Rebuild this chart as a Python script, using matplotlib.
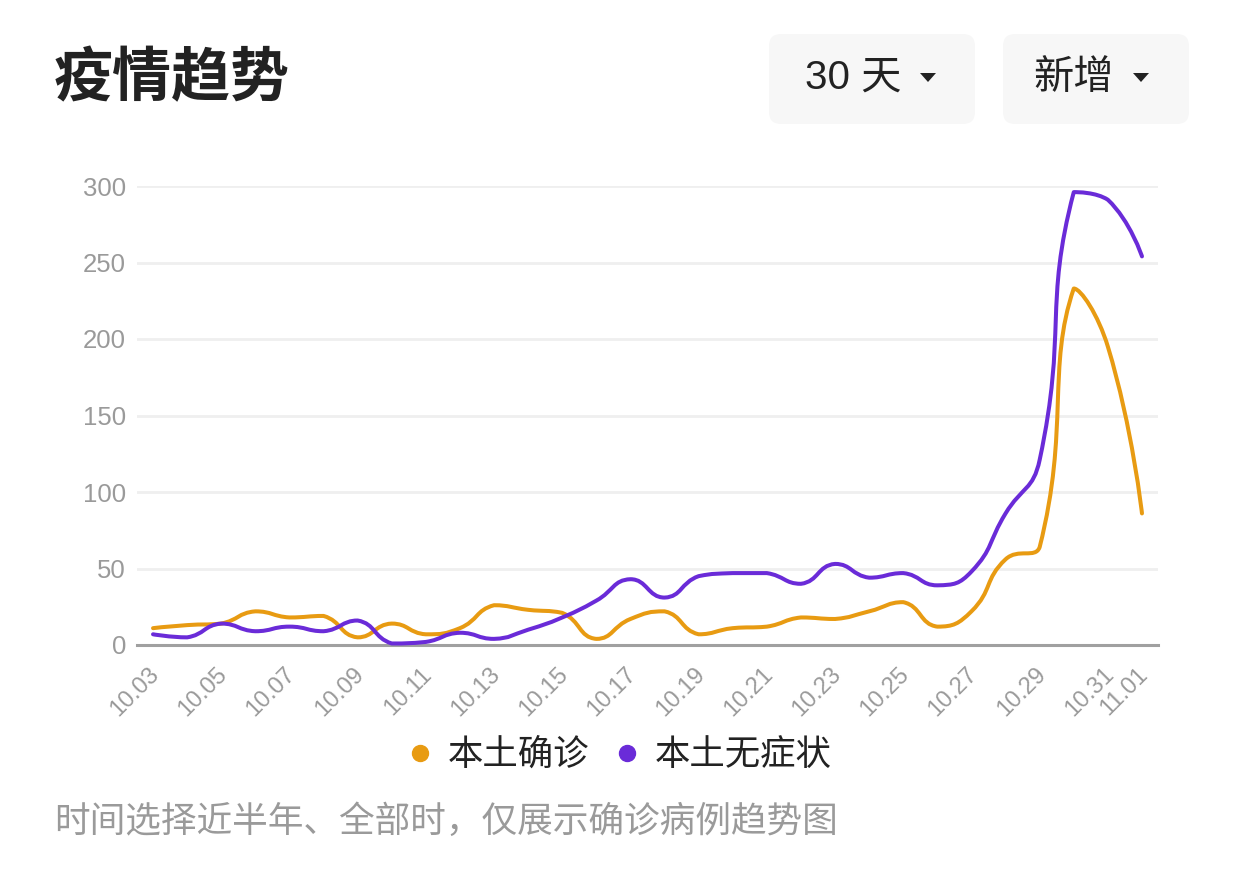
import numpy as np
import matplotlib
matplotlib.use("Agg")
import matplotlib.pyplot as plt
from matplotlib.path import Path
from matplotlib.patches import PathPatch, FancyBboxPatch, Polygon
from matplotlib.lines import Line2D
from matplotlib.transforms import ScaledTranslation

plt.rcParams['font.family'] = ['Liberation Sans', 'Noto Sans CJK SC', 'DejaVu Sans']

# data
dates = ['10.03', '10.04', '10.05', '10.06', '10.07', '10.08', '10.09', '10.10',
         '10.11', '10.12', '10.13', '10.14', '10.15', '10.16', '10.17', '10.18',
         '10.19', '10.20', '10.21', '10.22', '10.23', '10.24', '10.25', '10.26',
         '10.27', '10.28', '10.29', '10.30', '10.31', '11.01']
confirmed = [11, 13, 14, 22, 18, 19, 5, 14, 7, 11, 26, 23, 21, 4, 17, 22,
             7, 11, 12, 18, 17, 22, 28, 12, 22, 56, 64, 233, 195, 86]
asymptomatic = [7, 5, 14, 9, 12, 9, 16, 1, 2, 8, 4, 10, 18, 29, 43, 31,
                45, 47, 47, 40, 53, 44, 47, 39, 48, 86, 121, 296, 291, 254]
series_names = ['本土确诊', '本土无症状']
series_colors = ['#E89B12', '#6A2BD8']
yticks = [0, 50, 100, 150, 200, 250, 300]

W, H = 1242, 873
fig = plt.figure(figsize=(W / 100, H / 100), dpi=100)
fig.patch.set_facecolor('white')

# overlay in pixel coords for the header / footer bits
ov = fig.add_axes([0, 0, 1, 1])
ov.set_xlim(0, W)
ov.set_ylim(H, 0)
ov.axis('off')

ov.text(54, 79, '疫情趋势', fontsize=42.5, fontweight='bold', color='#222222',
        ha='left', va='center', family=['Noto Sans CJK SC', 'DejaVu Sans'])

for (x0, x1), label, tri_x in [((769, 975), '30 天', 928), ((1003, 1189), '新增', 1141)]:
    ov.add_patch(FancyBboxPatch((x0, 34), x1 - x0, 90,
                                boxstyle='round,pad=0,rounding_size=12',
                                fc='#f7f7f7', ec='none'))
    ov.text(tri_x - 27, 78, label, fontsize=29, color='#222222', ha='right', va='center')
    ov.add_patch(Polygon([(tri_x - 8, 73), (tri_x + 8, 73), (tri_x, 82)],
                         closed=True, fc='#222222', ec='none'))

ov.text(54, 822, '时间选择近半年、全部时，仅展示确诊病例趋势图', fontsize=25.7,
        color='#9a9a9a', ha='left', va='center',
        family=['Noto Sans CJK SC', 'DejaVu Sans'])

# main chart
ax = fig.add_axes([137 / W, 1 - 645 / H, (1158 - 137) / W, (645 - 186) / H])
ax.set_facecolor('none')
n = len(dates)
x = np.arange(n)
ax.set_xlim(-0.47, n - 1 + 0.47)
ax.set_ylim(0, 300)

sx = (1142 - 153) / (n - 1)
sy = (645 - 186) / 300


def smooth_path(xs, ys, smooth=0.5):
    # echarts-like bezier smoothing done in pixel space
    p = np.column_stack([np.asarray(xs, float) * sx, np.asarray(ys, float) * sy])
    m = len(p)
    cin = p.copy()
    cout = p.copy()
    for i in range(1, m - 1):
        v = p[i + 1] - p[i - 1]
        lp = np.hypot(*(p[i] - p[i - 1]))
        ln = np.hypot(*(p[i + 1] - p[i]))
        r = ln / (ln + lp)
        a = p[i] - v * smooth * (1 - r)
        b = p[i] + v * smooth * r
        a = np.clip(a, np.minimum(p[i - 1], p[i]), np.maximum(p[i - 1], p[i]))
        b = np.clip(b, np.minimum(p[i + 1], p[i]), np.maximum(p[i + 1], p[i]))
        cin[i] = a
        cout[i] = b
    verts = [p[0]]
    codes = [Path.MOVETO]
    for i in range(m - 1):
        verts += [cout[i], cin[i + 1], p[i + 1]]
        codes += [Path.CURVE4] * 3
    verts = np.array(verts) / [sx, sy]
    return Path(verts, codes)


for ys, c in zip([confirmed, asymptomatic], series_colors):
    ax.add_patch(PathPatch(smooth_path(x, ys), fill=False, edgecolor=c, lw=2.9,
                           capstyle='round', joinstyle='round', clip_on=False, zorder=3))

for s in ['top', 'right', 'left']:
    ax.spines[s].set_visible(False)
ax.spines['bottom'].set_color('#a0a0a0')
ax.spines['bottom'].set_linewidth(2.2)
ax.spines['bottom'].set_zorder(2)

ax.set_yticks(yticks)
ax.set_yticklabels([str(v) for v in yticks])
ax.tick_params(axis='y', length=0, pad=8, labelsize=18.5, labelcolor='#9a9a9a')
for v in yticks[1:]:
    ax.axhline(v, color='#efefef', lw=2, zorder=1)

tick_idx = list(range(0, n - 1, 2)) + [n - 1]
ax.set_xticks(tick_idx)
ax.set_xticklabels([dates[i] for i in tick_idx], rotation=45, ha='right',
                   rotation_mode='anchor')
ax.tick_params(axis='x', length=0, pad=13, labelsize=17, labelcolor='#9a9a9a')
shift = ScaledTranslation(-5 / 100, 0, fig.dpi_scale_trans)
for lab in ax.get_xticklabels():
    lab.set_transform(lab.get_transform() + shift)

handles = [Line2D([], [], marker='o', ls='', color=c, markersize=11.5) for c in series_colors]
leg = fig.legend(handles, series_names, loc='center', bbox_to_anchor=(617 / W, 1 - 755 / H),
                 ncol=2, frameon=False, handletextpad=0.3, columnspacing=0.55,
                 handlelength=1.0, prop={'family': ['Noto Sans CJK SC', 'DejaVu Sans'], 'size': 25.5})
for t in leg.get_texts():
    t.set_color('#222222')

fig.savefig('out.png', dpi=100, facecolor='white')
